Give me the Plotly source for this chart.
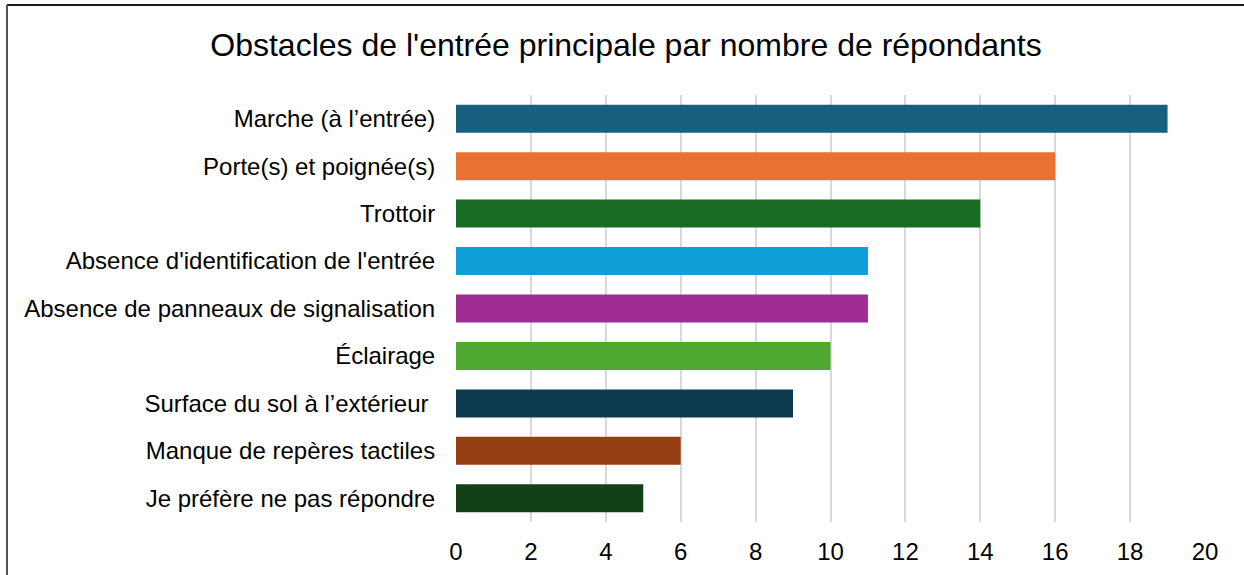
import plotly.graph_objects as go

categories = [
    "Marche (à l’entrée)",
    "Porte(s) et poignée(s)",
    "Trottoir",
    "Absence d'identification de l'entrée",
    "Absence de panneaux de signalisation",
    "Éclairage",
    "Surface du sol à l’extérieur ",
    "Manque de repères tactiles",
    "Je préfère ne pas répondre",
]
values = [19, 16, 14, 11, 11, 10, 9, 6, 5]
colors = ["#17607f", "#e97132", "#196b24", "#0f9ed5", "#a02b93",
          "#4ea72e", "#0e3a51", "#963e13", "#134117"]
tick_vals = [0, 2, 4, 6, 8, 10, 12, 14, 16, 18, 20]

L, R, T, B = 456, 39, 95, 53
W, H = 1244, 575
PW, PH = W - L - R, H - T - B

fig = go.Figure(go.Bar(
    x=values, y=categories, orientation="h",
    marker=dict(color=colors, line=dict(width=0)),
    width=0.59,
))

fig.update_layout(
    width=W, height=H,
    margin=dict(l=L, r=R, t=T, b=B, autoexpand=False),
    paper_bgcolor="white", plot_bgcolor="white",
    font=dict(family="Liberation Sans, Arial, sans-serif", size=24, color="#000000"),
    title=dict(text="Obstacles de l'entrée principale par nombre de répondants",
               x=626/W, xanchor="center", y=1-45/H, yanchor="middle",
               automargin=False,
               font=dict(size=32, color="#000000")),
    showlegend=False,
)
fig.update_xaxes(range=[0, 20], tickvals=tick_vals, showgrid=True, automargin=False,
                 gridcolor="#d9d9d9", gridwidth=2, zeroline=False,
                 showline=False, ticks="outside", ticklen=8, tickcolor="rgba(0,0,0,0)",
                 tickfont=dict(size=24))
fig.update_yaxes(autorange="reversed", showgrid=False, showline=False, automargin=False,
                 ticks="outside", ticklen=15, tickcolor="rgba(0,0,0,0)",
                 tickfont=dict(size=24))

# outer border (top and left edges visible)
fig.add_shape(type="line", xref="paper", yref="paper",
              x0=(7 - L)/PW, x1=(W + 5 - L)/PW, y0=1 + (T - 5)/PH, y1=1 + (T - 5)/PH,
              line=dict(color="#1a1a1a", width=2))
fig.add_shape(type="line", xref="paper", yref="paper",
              x0=(7 - L)/PW, x1=(7 - L)/PW, y0=1 + (T - 5)/PH, y1=-(B + 5)/PH,
              line=dict(color="#555555", width=2))

fig.write_html("out.html", config={"displayModeBar": False},
               post_script="document.body.style.margin='0';")
